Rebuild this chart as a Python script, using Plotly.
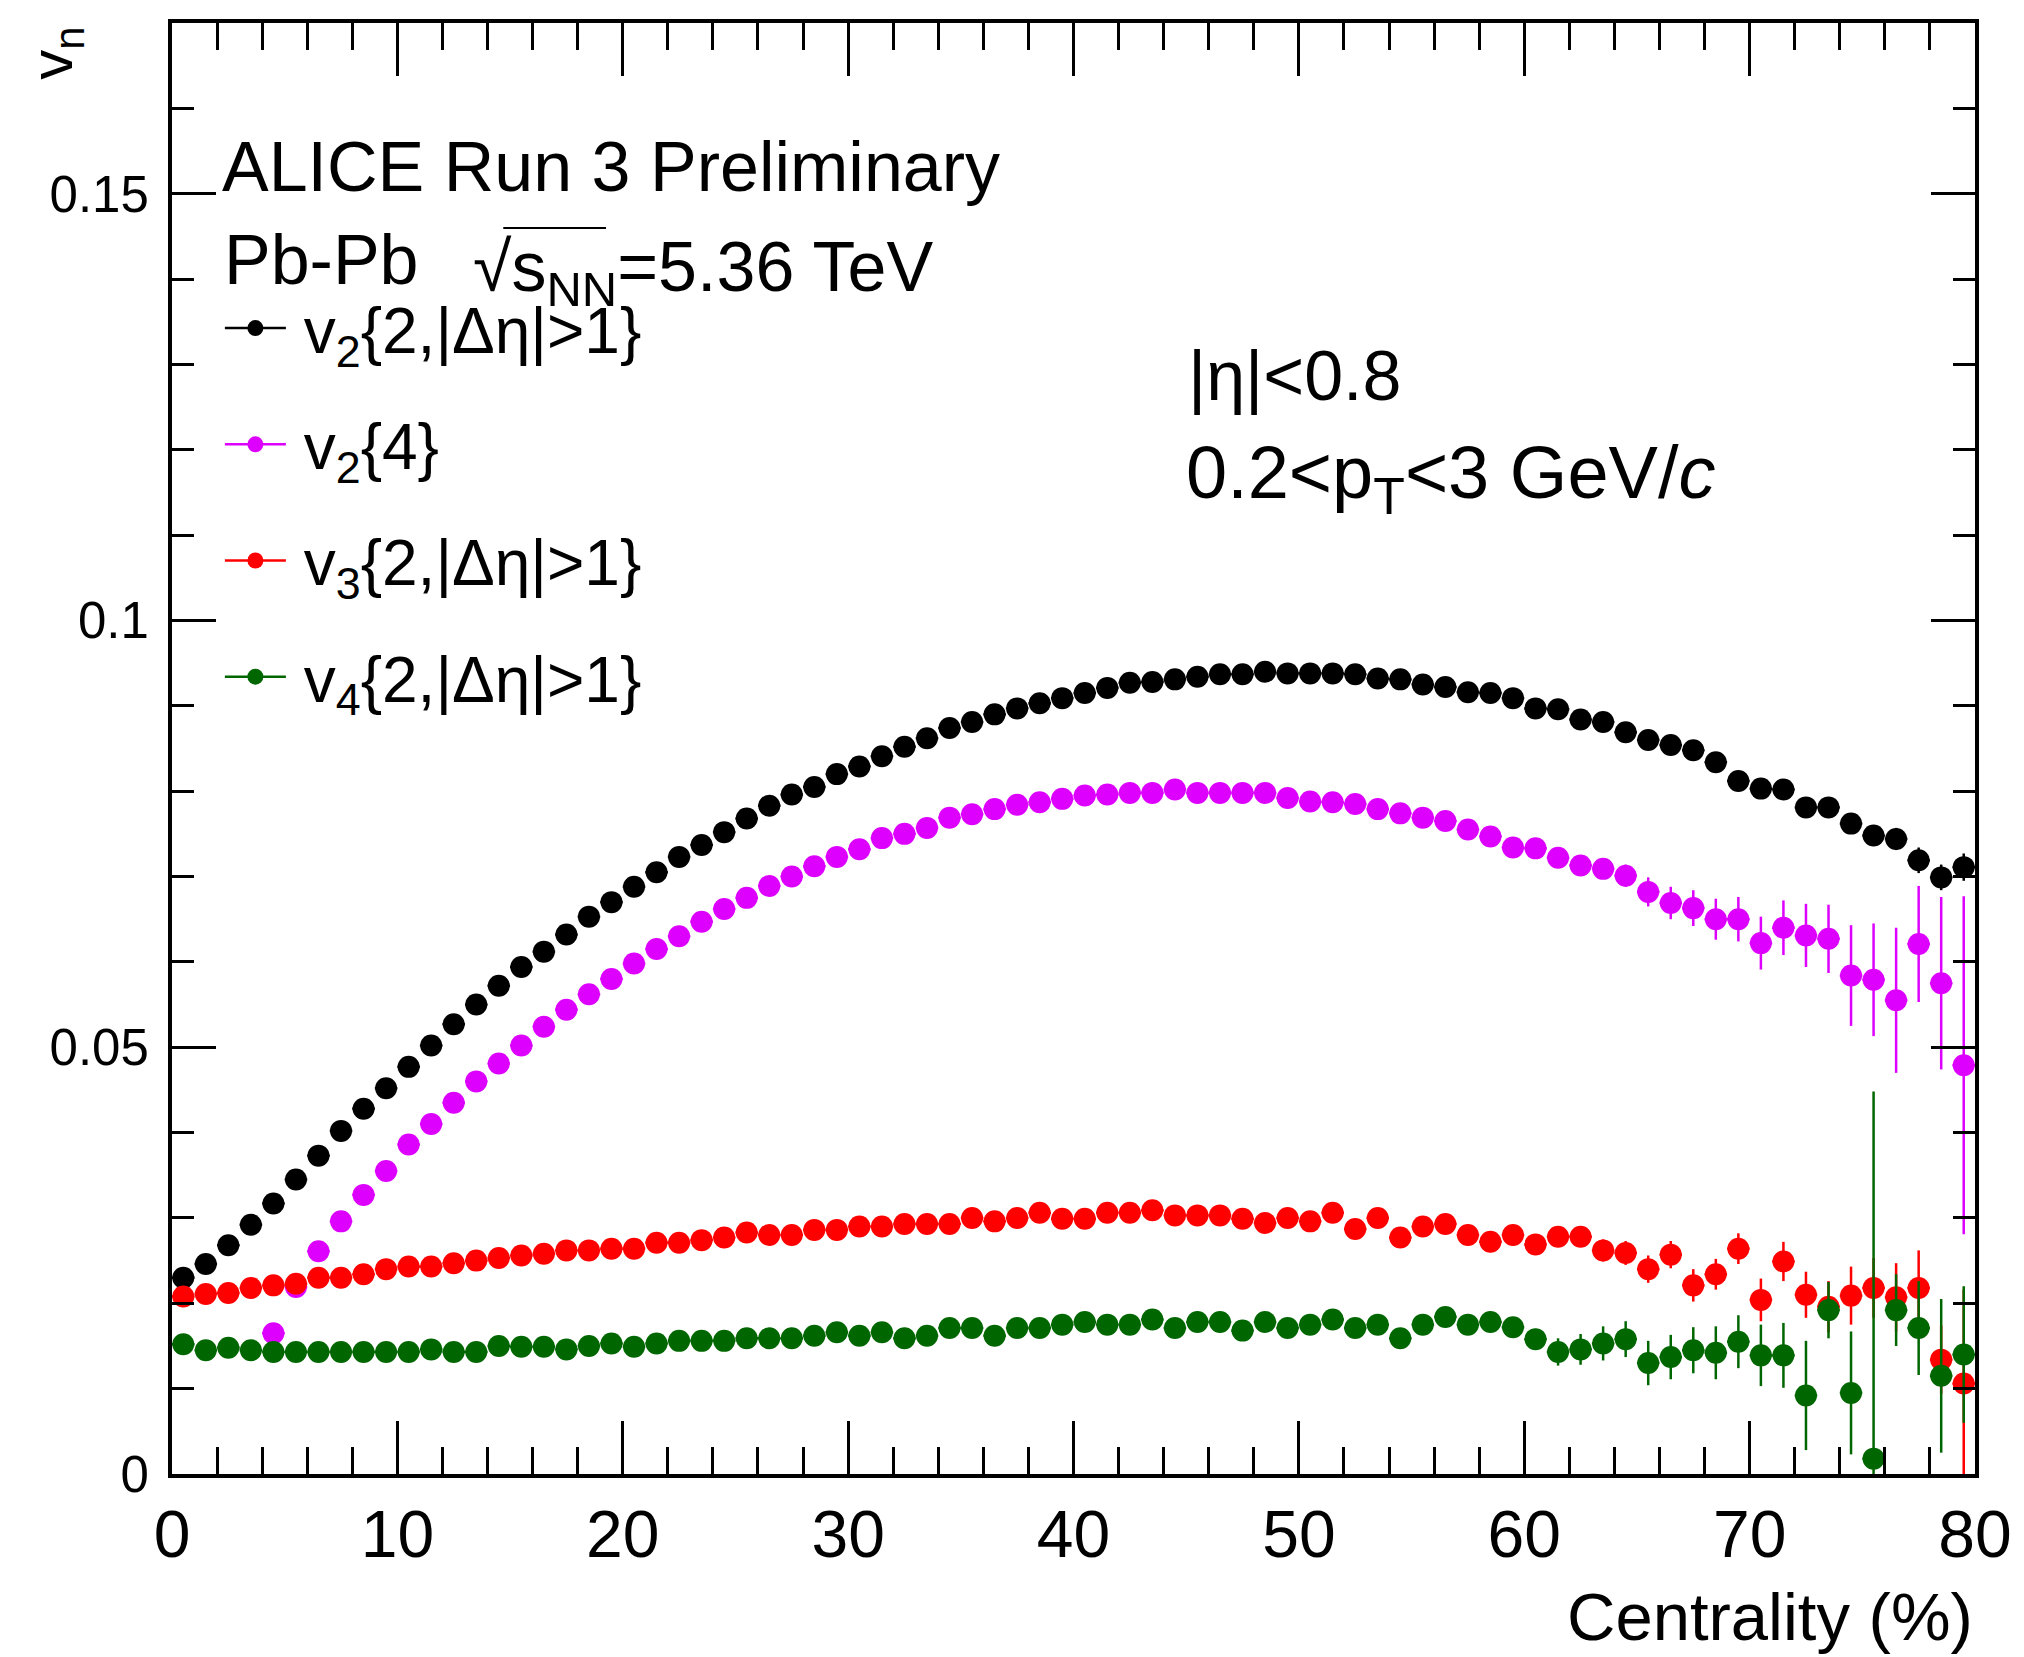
import plotly.graph_objects as go

# ---------------- data ----------------
centrality = [0.5, 1.5, 2.5, 3.5, 4.5, 5.5, 6.5, 7.5, 8.5, 9.5,
              10.5, 11.5, 12.5, 13.5, 14.5, 15.5, 16.5, 17.5, 18.5, 19.5,
              20.5, 21.5, 22.5, 23.5, 24.5, 25.5, 26.5, 27.5, 28.5, 29.5,
              30.5, 31.5, 32.5, 33.5, 34.5, 35.5, 36.5, 37.5, 38.5, 39.5,
              40.5, 41.5, 42.5, 43.5, 44.5, 45.5, 46.5, 47.5, 48.5, 49.5,
              50.5, 51.5, 52.5, 53.5, 54.5, 55.5, 56.5, 57.5, 58.5, 59.5,
              60.5, 61.5, 62.5, 63.5, 64.5, 65.5, 66.5, 67.5, 68.5, 69.5,
              70.5, 71.5, 72.5, 73.5, 74.5, 75.5, 76.5, 77.5, 78.5, 79.5]
bin_half_width = 0.5

v22 = [0.0230, 0.0246, 0.0268, 0.0292, 0.0317, 0.0345, 0.0373, 0.0402, 0.0428, 0.0452,
       0.0477, 0.0502, 0.0527, 0.0550, 0.0572, 0.0594, 0.0612, 0.0632, 0.0653, 0.0670,
       0.0688, 0.0705, 0.0723, 0.0737, 0.0752, 0.0768, 0.0783, 0.0796, 0.0805, 0.0820,
       0.0829, 0.0841, 0.0852, 0.0862, 0.0874, 0.0881, 0.0890, 0.0897, 0.0903, 0.0909,
       0.0915, 0.0921, 0.0927, 0.0928, 0.0931, 0.0934, 0.0937, 0.0937, 0.0940, 0.0938,
       0.0938, 0.0938, 0.0937, 0.0932, 0.0931, 0.0925, 0.0922, 0.0916, 0.0915, 0.0909,
       0.0897, 0.0896, 0.0884, 0.0881, 0.0869, 0.0860, 0.0854, 0.0848, 0.0834, 0.0812,
       0.0803, 0.0802, 0.0781, 0.0781, 0.0762, 0.0748, 0.0744, 0.0719, 0.0699, 0.0711]
v22_err = [0.0004, 0.0004, 0.0004, 0.0004, 0.0004, 0.0004, 0.0004, 0.0004, 0.0004, 0.0004,
           0.0004, 0.0004, 0.0004, 0.0004, 0.0004, 0.0004, 0.0004, 0.0004, 0.0004, 0.0004,
           0.0004, 0.0004, 0.0004, 0.0004, 0.0004, 0.0004, 0.0004, 0.0004, 0.0004, 0.0004,
           0.0004, 0.0004, 0.0004, 0.0004, 0.0004, 0.0004, 0.0004, 0.0004, 0.0004, 0.0004,
           0.0004, 0.0004, 0.0004, 0.0004, 0.0004, 0.0004, 0.0004, 0.0004, 0.0004, 0.0004,
           0.0005, 0.0005, 0.0005, 0.0005, 0.0005, 0.0005, 0.0005, 0.0005, 0.0005, 0.0005,
           0.0006, 0.0006, 0.0006, 0.0006, 0.0006, 0.0007, 0.0007, 0.0007, 0.0008, 0.0008,
           0.0009, 0.0009, 0.0010, 0.0010, 0.0011, 0.0012, 0.0013, 0.0015, 0.0015, 0.0016]

v24 = [None, None, None, None, 0.0165, 0.0219, 0.0261, 0.0296, 0.0327, 0.0355,
       0.0386, 0.0410, 0.0435, 0.0460, 0.0481, 0.0502, 0.0524, 0.0544, 0.0562, 0.0580,
       0.0598, 0.0615, 0.0630, 0.0647, 0.0662, 0.0675, 0.0689, 0.0700, 0.0712, 0.0723,
       0.0732, 0.0745, 0.0750, 0.0757, 0.0769, 0.0773, 0.0779, 0.0784, 0.0787, 0.0791,
       0.0795, 0.0796, 0.0798, 0.0798, 0.0802, 0.0798, 0.0798, 0.0798, 0.0798, 0.0792,
       0.0788, 0.0787, 0.0785, 0.0779, 0.0774, 0.0769, 0.0765, 0.0755, 0.0747, 0.0734,
       0.0733, 0.0722, 0.0713, 0.0709, 0.0701, 0.0682, 0.0669, 0.0663, 0.0650, 0.0650,
       0.0622, 0.0640, 0.0631, 0.0627, 0.0584, 0.0579, 0.0555, 0.0621, 0.0575, 0.0479]
v24_err = [None, None, None, None, 0.0004, 0.0004, 0.0004, 0.0004, 0.0004, 0.0004,
           0.0004, 0.0004, 0.0004, 0.0004, 0.0004, 0.0004, 0.0004, 0.0004, 0.0004, 0.0004,
           0.0004, 0.0004, 0.0004, 0.0004, 0.0004, 0.0004, 0.0004, 0.0004, 0.0004, 0.0004,
           0.0004, 0.0004, 0.0004, 0.0004, 0.0004, 0.0004, 0.0004, 0.0004, 0.0004, 0.0004,
           0.0005, 0.0005, 0.0005, 0.0005, 0.0005, 0.0005, 0.0005, 0.0005, 0.0005, 0.0005,
           0.0006, 0.0006, 0.0006, 0.0006, 0.0006, 0.0007, 0.0007, 0.0007, 0.0007, 0.0007,
           0.0008, 0.0009, 0.0010, 0.0011, 0.0013, 0.0017, 0.0019, 0.0021, 0.0024, 0.0026,
           0.0031, 0.0032, 0.0037, 0.0040, 0.0059, 0.0066, 0.0085, 0.0068, 0.0101, 0.0198]

v32 = [0.0208, 0.0211, 0.0212, 0.0218, 0.0221, 0.0223, 0.0230, 0.0230, 0.0234, 0.0240,
       0.0243, 0.0243, 0.0247, 0.0250, 0.0253, 0.0256, 0.0258, 0.0262, 0.0262, 0.0264,
       0.0264, 0.0271, 0.0271, 0.0274, 0.0277, 0.0283, 0.0280, 0.0280, 0.0286, 0.0286,
       0.0290, 0.0290, 0.0293, 0.0293, 0.0293, 0.0300, 0.0296, 0.0300, 0.0306, 0.0299,
       0.0299, 0.0306, 0.0306, 0.0309, 0.0303, 0.0303, 0.0303, 0.0299, 0.0294, 0.0300,
       0.0296, 0.0306, 0.0287, 0.0300, 0.0277, 0.0290, 0.0293, 0.0280, 0.0272, 0.0280,
       0.0269, 0.0278, 0.0278, 0.0262, 0.0259, 0.0240, 0.0257, 0.0221, 0.0234, 0.0264,
       0.0204, 0.0249, 0.0210, 0.0196, 0.0209, 0.0218, 0.0207, 0.0218, 0.0134, 0.0106]
v32_err = [0.0004, 0.0004, 0.0004, 0.0004, 0.0004, 0.0004, 0.0004, 0.0004, 0.0004, 0.0004,
           0.0004, 0.0004, 0.0004, 0.0004, 0.0004, 0.0004, 0.0004, 0.0004, 0.0004, 0.0004,
           0.0004, 0.0004, 0.0004, 0.0004, 0.0004, 0.0004, 0.0004, 0.0004, 0.0004, 0.0004,
           0.0005, 0.0005, 0.0005, 0.0005, 0.0005, 0.0005, 0.0005, 0.0005, 0.0005, 0.0005,
           0.0006, 0.0006, 0.0006, 0.0006, 0.0006, 0.0006, 0.0006, 0.0006, 0.0006, 0.0006,
           0.0007, 0.0007, 0.0007, 0.0007, 0.0008, 0.0008, 0.0008, 0.0009, 0.0009, 0.0010,
           0.0011, 0.0012, 0.0012, 0.0013, 0.0014, 0.0016, 0.0016, 0.0019, 0.0018, 0.0018,
           0.0025, 0.0023, 0.0027, 0.0030, 0.0034, 0.0035, 0.0040, 0.0044, 0.0040, 0.0110]

v42 = [0.0152, 0.0145, 0.0148, 0.0145, 0.0143, 0.0143, 0.0143, 0.0143, 0.0143, 0.0143,
       0.0143, 0.0146, 0.0143, 0.0143, 0.0150, 0.0149, 0.0149, 0.0146, 0.0150, 0.0153,
       0.0149, 0.0153, 0.0156, 0.0156, 0.0156, 0.0159, 0.0159, 0.0159, 0.0162, 0.0166,
       0.0162, 0.0166, 0.0159, 0.0162, 0.0171, 0.0171, 0.0162, 0.0171, 0.0171, 0.0175,
       0.0178, 0.0175, 0.0175, 0.0181, 0.0171, 0.0178, 0.0178, 0.0168, 0.0178, 0.0171,
       0.0175, 0.0181, 0.0171, 0.0175, 0.0159, 0.0175, 0.0184, 0.0175, 0.0178, 0.0172,
       0.0158, 0.0143, 0.0146, 0.0153, 0.0158, 0.0130, 0.0137, 0.0145, 0.0142, 0.0155,
       0.0139, 0.0139, 0.0092, 0.0192, 0.0095, 0.0018, 0.0192, 0.0171, 0.0115, 0.0140]
v42_err = [0.0005, 0.0005, 0.0005, 0.0005, 0.0005, 0.0005, 0.0005, 0.0005, 0.0005, 0.0005,
           0.0005, 0.0005, 0.0005, 0.0005, 0.0005, 0.0005, 0.0005, 0.0005, 0.0005, 0.0005,
           0.0005, 0.0005, 0.0005, 0.0005, 0.0005, 0.0005, 0.0005, 0.0005, 0.0005, 0.0005,
           0.0006, 0.0006, 0.0006, 0.0006, 0.0006, 0.0006, 0.0006, 0.0006, 0.0006, 0.0006,
           0.0007, 0.0007, 0.0007, 0.0007, 0.0007, 0.0007, 0.0007, 0.0007, 0.0007, 0.0007,
           0.0008, 0.0008, 0.0008, 0.0008, 0.0009, 0.0009, 0.0009, 0.0010, 0.0010, 0.0011,
           0.0012, 0.0016, 0.0018, 0.0020, 0.0021, 0.0026, 0.0026, 0.0027, 0.0031, 0.0031,
           0.0036, 0.0038, 0.0064, 0.0033, 0.0072, 0.0430, 0.0042, 0.0055, 0.0090, 0.0080]

series_names = ["\u2009v<sub>2</sub>{2,|Δη|>1}", "\u2009v<sub>2</sub>{4}",
                "\u2009v<sub>3</sub>{2,|Δη|>1}", "\u2009v<sub>4</sub>{2,|Δη|>1}"]
series_values = [v22, v24, v32, v42]
series_errors = [v22_err, v24_err, v32_err, v42_err]
series_colors = ["#000000", "#dd00ff", "#ff0000", "#006600"]

x_ticks = [0, 10, 20, 30, 40, 50, 60, 70, 80]
y_ticks = [0, 0.05, 0.1, 0.15]
y_tick_text = ["0", "0.05", "0.1", "0.15"]

# ---------------- layout geometry ----------------
W, H = 2024, 1657
ML, MR, MT, MB = 172, 45, 23, 183
PW, PH = W - ML - MR, H - MT - MB
FONT = "Liberation Sans, Arial, Helvetica, sans-serif"


def px(x):
    return (x - ML) / PW


def py(y):
    return (H - MB - y) / PH


fig = go.Figure()

# data traces
for name, vals, errs, col in zip(series_names, series_values, series_errors, series_colors):
    fig.add_trace(go.Scatter(
        x=centrality, y=vals, mode="markers", showlegend=False,
        marker=dict(size=22, color=col, line=dict(width=0)),
        error_x=dict(type="constant", value=bin_half_width, thickness=2.5, width=0, color=col),
        error_y=dict(type="data", array=errs, thickness=2.5, width=0, color=col),
        cliponaxis=True,
    ))

# legend entries
for i, (name, col) in enumerate(zip(series_names, series_colors)):
    fig.add_trace(go.Scatter(
        x=[None], y=[None], mode="lines+markers", name=name, legendgroup=str(i),
        marker=dict(size=16, color=col), line=dict(color=col, width=2.5),
    ))

axis_common = dict(
    showline=True, linecolor="black", linewidth=4, mirror="allticks",
    ticks="inside", tickcolor="black", tickwidth=3,
    showgrid=False, zeroline=False,
)

fig.update_xaxes(
    range=[0, 80], tickvals=x_ticks, ticklen=53,
    minor=dict(dtick=2, tick0=0, ticklen=27, tickwidth=3, tickcolor="black", ticks="inside", showgrid=False),
    tickfont=dict(size=66, family=FONT, color="black"), ticklabelstandoff=0,
    **axis_common,
)
fig.update_yaxes(
    range=[0, 0.17], tickvals=y_ticks, ticktext=y_tick_text, ticklen=44,
    minor=dict(dtick=0.01, tick0=0, ticklen=22, tickwidth=3, tickcolor="black", ticks="inside", showgrid=False),
    tickfont=dict(size=51, family=FONT, color="black"), ticklabelstandoff=9,
    **axis_common,
)

ann = []
txt_font = dict(size=70, family=FONT, color="black")
ann.append(dict(text="ALICE Run 3 Preliminary", x=px(220), y=py(167), xanchor="left", yanchor="middle",
                font=txt_font))
ann.append(dict(text="Pb-Pb", x=px(222), y=py(260), xanchor="left", yanchor="middle", font=txt_font))
ann.append(dict(text="√s<sub>NN</sub>=5.36 TeV", x=px(472), y=py(272), xanchor="left", yanchor="middle",
                font=txt_font))
ann.append(dict(text="|η|<0.8", x=px(1188), y=py(376), xanchor="left", yanchor="middle", font=txt_font))
ann.append(dict(text="0.2<p<sub>T</sub><3 GeV/<i>c</i>", x=px(1186), y=py(478), xanchor="left",
                yanchor="middle", font=dict(size=74, family=FONT, color="black")))
ann.append(dict(text="Centrality (%)", x=1.0, y=py(1616), xanchor="right", yanchor="middle",
                font=dict(size=67, family=FONT, color="black")))
ann.append(dict(text="v<sub>n</sub>", x=px(55), y=py(25), xanchor="center", yanchor="top", textangle=-90,
                font=dict(size=60, family=FONT, color="black")))
for a in ann:
    a.update(xref="paper", yref="paper", showarrow=False)

shapes = [dict(type="line", xref="paper", yref="paper", x0=px(504), x1=px(607), y0=py(228), y1=py(228),
               line=dict(color="black", width=2))]

fig.update_layout(
    width=W, height=H,
    margin=dict(l=ML, r=MR, t=MT, b=MB, pad=0),
    paper_bgcolor="white", plot_bgcolor="white",
    annotations=ann, shapes=shapes,
    showlegend=True,
    legend=dict(x=px(220), y=py(280), xanchor="left", yanchor="top",
                font=dict(size=64, family=FONT, color="black"),
                bgcolor="rgba(0,0,0,0)", borderwidth=0,
                itemwidth=61, tracegroupgap=30, itemsizing="trace"),
    font=dict(family=FONT, color="black"),
)

fig.write_html("out.html")
